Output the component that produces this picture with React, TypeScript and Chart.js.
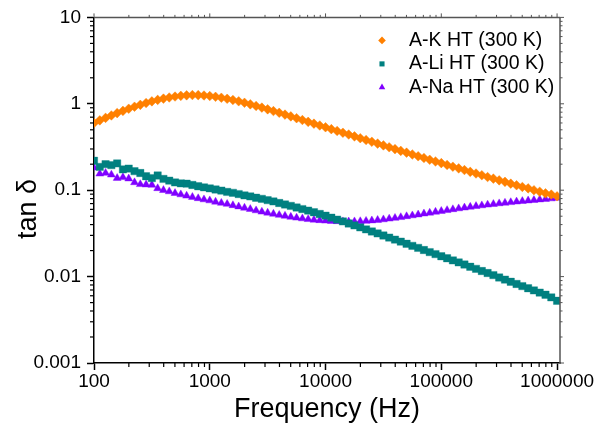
import React, { useEffect, useRef } from 'react';
import { Chart, registerables } from 'chart.js';
import { drawPoint } from 'chart.js/helpers';

Chart.register(...registerables);

const frequencies = [
  100, 112.2, 125.9, 141.3, 158.5, 177.8, 199.5, 223.9, 251.2, 281.8,
  316.2, 354.8, 398.1, 446.7, 501.2, 562.3, 631.0, 707.9, 794.3, 891.3,
  1000, 1122, 1259, 1413, 1585, 1778, 1995, 2239, 2512, 2818,
  3162, 3548, 3981, 4467, 5012, 5623, 6310, 7079, 7943, 8913,
  10000, 11220, 12590, 14130, 15850, 17780, 19950, 22390, 25120, 28180,
  31620, 35480, 39810, 44670, 50120, 56230, 63100, 70790, 79430, 89130,
  100000, 112200, 125900, 141300, 158500, 177800, 199500, 223900, 251200, 281800,
  316200, 354800, 398100, 446700, 501200, 562300, 631000, 707900, 794300, 891300,
  1000000,
];

const akValues = [
  0.600, 0.643, 0.687, 0.733, 0.780, 0.828, 0.877, 0.925, 0.973, 1.021,
  1.067, 1.109, 1.148, 1.183, 1.213, 1.236, 1.253, 1.262, 1.259, 1.247,
  1.230, 1.205, 1.175, 1.143, 1.107, 1.069, 1.028, 0.986, 0.944, 0.904,
  0.863, 0.824, 0.787, 0.750, 0.715, 0.681, 0.649, 0.618, 0.589, 0.561,
  0.535, 0.509, 0.485, 0.462, 0.441, 0.420, 0.400, 0.381, 0.363, 0.346,
  0.330, 0.314, 0.299, 0.285, 0.272, 0.259, 0.247, 0.236, 0.225, 0.215,
  0.206, 0.196, 0.187, 0.179, 0.171, 0.163, 0.156, 0.149, 0.142, 0.136,
  0.130, 0.125, 0.119, 0.114, 0.109, 0.105, 0.100, 0.096, 0.092, 0.089,
  0.085,
];

const aliValues = [
  0.219, 0.186, 0.200, 0.195, 0.204, 0.174, 0.178, 0.166, 0.158, 0.145,
  0.138, 0.148, 0.135, 0.129, 0.123, 0.120, 0.119, 0.115, 0.111, 0.108,
  0.105, 0.102, 0.099, 0.0955, 0.0933, 0.0902, 0.0871, 0.0847, 0.0818, 0.0794,
  0.0767, 0.0741, 0.0711, 0.0684, 0.0658, 0.0631, 0.0605, 0.0581, 0.0556, 0.0531,
  0.0507, 0.0481, 0.0457, 0.0435, 0.0412, 0.0391, 0.0371, 0.0352, 0.0333, 0.0316,
  0.0299, 0.0283, 0.0268, 0.0254, 0.0240, 0.0227, 0.0215, 0.0203, 0.0192, 0.0182,
  0.0172, 0.0163, 0.0154, 0.0146, 0.0138, 0.0130, 0.0123, 0.0116, 0.0110, 0.0104,
  0.00977, 0.00923, 0.00871, 0.00822, 0.00776, 0.00733, 0.00692, 0.00653, 0.00617, 0.00575,
  0.00525,
];

const anaValues = [
  0.182, 0.155, 0.158, 0.151, 0.138, 0.141, 0.136, 0.123, 0.117, 0.116,
  0.115, 0.105, 0.100, 0.0966, 0.0923, 0.0891, 0.0861, 0.0832, 0.0804, 0.0780,
  0.0759, 0.0733, 0.0711, 0.0692, 0.0668, 0.0646, 0.0624, 0.0603, 0.0582, 0.0562,
  0.0547, 0.0531, 0.0516, 0.0504, 0.0490, 0.0479, 0.0470, 0.0461, 0.0454, 0.0448,
  0.0443, 0.0439, 0.0436, 0.0434, 0.0433, 0.0434, 0.0436, 0.0440, 0.0445, 0.0451,
  0.0458, 0.0467, 0.0476, 0.0486, 0.0498, 0.0509, 0.0521, 0.0535, 0.0547, 0.0560,
  0.0573, 0.0586, 0.0600, 0.0614, 0.0627, 0.0640, 0.0653, 0.0665, 0.0678, 0.0690,
  0.0702, 0.0713, 0.0724, 0.0736, 0.0746, 0.0757, 0.0767, 0.0778, 0.0789, 0.0800,
  0.0813,
];

const seriesLabels = ['A-K HT (300 K)', 'A-Li HT (300 K)', 'A-Na HT (300 K)'];
const seriesColors = ['#FF8000', '#008080', '#8000FF'];
const seriesHalo = ['rgba(255,128,0,0.45)', 'rgba(0,128,128,0.35)', 'rgba(128,0,255,0.4)'];
const xTickLabels = ['100', '1000', '10000', '100000', '1000000'];
const yTickLabels = ['0.001', '0.01', '0.1', '1', '10'];

const FONT = "'Liberation Sans', Arial, Helvetica, sans-serif";

function isDecade(v: number) {
  const l = Math.log10(v);
  return Math.abs(l - Math.round(l)) < 1e-6;
}
function isMinor(v: number) {
  const e = Math.floor(Math.log10(v) + 1e-9);
  const s = v / Math.pow(10, e);
  const r = Math.round(s);
  return Math.abs(s - r) < 1e-6 && r >= 2 && r <= 9;
}

const framePlugin = {
  id: 'frameAndLegend',
  afterDraw(chart: any) {
    const { ctx, chartArea } = chart;
    const { left, right, top, bottom } = chartArea;
    const xs = chart.scales.x;
    const ys = chart.scales.y;
    ctx.save();
    const line = (x1: number, y1: number, x2: number, y2: number) => {
      ctx.beginPath();
      ctx.moveTo(x1, y1);
      ctx.lineTo(x2, y2);
      ctx.stroke();
    };
    // minor ticks on bottom and left
    ctx.strokeStyle = '#000';
    ctx.lineWidth = 1.2;
    for (const t of xs.ticks) {
      if (!isMinor(t.value)) continue;
      const px = xs.getPixelForValue(t.value);
      line(px, bottom, px, bottom + 4);
    }
    for (const t of ys.ticks) {
      if (!isMinor(t.value)) continue;
      const py = ys.getPixelForValue(t.value);
      line(left, py, left - 4, py);
    }
    // top & right frame
    ctx.strokeStyle = '#555';
    ctx.lineWidth = 1.5;
    line(left, top, right, top);
    line(right, top, right, bottom + 0.75);
    ctx.lineWidth = 1;
    for (const t of xs.ticks) {
      const maj = isDecade(t.value);
      if (!maj && !isMinor(t.value)) continue;
      const px = xs.getPixelForValue(t.value);
      line(px, top, px, top - (maj ? 4 : 2.5));
    }
    for (const t of ys.ticks) {
      const maj = isDecade(t.value);
      if (!maj && !isMinor(t.value)) continue;
      const py = ys.getPixelForValue(t.value);
      line(right, py, right + (maj ? 4 : 2.5), py);
    }
    // legend
    const mx = right - 178;
    const tx = right - 151;
    ctx.font = `19.5px ${FONT}`;
    ctx.textBaseline = 'middle';
    ctx.textAlign = 'left';
    chart.data.datasets.forEach((ds: any, i: number) => {
      const y = top + 23 + i * 23.5;
      ctx.fillStyle = ds.backgroundColor;
      ctx.strokeStyle = ds.backgroundColor;
      drawPoint(ctx, { pointStyle: ds.pointStyle, radius: ds.legendRadius, rotation: 0, borderWidth: 0 }, mx, y);
      ctx.fillStyle = '#000';
      ctx.fillText(ds.label, tx, y);
    });
    ctx.restore();
  },
};

export default function App() {
  const ref = useRef<HTMLCanvasElement | null>(null);
  useEffect(() => {
    document.body.style.margin = '0';
    const mk = (vals: number[]) => frequencies.map((f, i) => ({ x: f, y: vals[i] }));
    const chart = new Chart(ref.current as HTMLCanvasElement, {
      type: 'scatter',
      data: {
        datasets: [
          {
            label: seriesLabels[0], data: mk(akValues), backgroundColor: seriesColors[0], borderColor: seriesHalo[0],
            pointStyle: 'rectRot', pointRadius: 4.8, borderWidth: 1, legendRadius: 3.8,
          } as any,
          {
            label: seriesLabels[1], data: mk(aliValues), backgroundColor: seriesColors[1], borderColor: seriesHalo[1],
            pointStyle: 'rect', pointRadius: 5.2, borderWidth: 1, legendRadius: 3.6,
          } as any,
          {
            label: seriesLabels[2], data: mk(anaValues), backgroundColor: seriesColors[2], borderColor: seriesHalo[2],
            pointStyle: 'triangle', pointRadius: 4.6, borderWidth: 1, legendRadius: 3.8,
          } as any,
        ],
      },
      options: {
        responsive: false,
        animation: false,
        layout: { padding: { top: 16, right: 43, left: 0, bottom: 0 } },
        plugins: { legend: { display: false }, tooltip: { enabled: false } },
        scales: {
          x: {
            type: 'logarithmic',
            position: 'bottom',
            min: 100,
            max: 1060000,
            afterFit: (s: any) => { s.height = 71; },
            border: { display: true, color: '#000', width: 1.5 },
            grid: {
              drawOnChartArea: false,
              drawTicks: true,
              tickLength: 7,
              tickWidth: 1.5,
              tickColor: (c: any) => (c.tick && isDecade(c.tick.value) ? '#000' : 'rgba(0,0,0,0)'),
            },
            ticks: {
              autoSkip: false,
              maxRotation: 0,
              minRotation: 0,
              padding: 0,
              color: '#000',
              font: { family: FONT, size: 19 },
              callback: (v: any) => {
                const n = Number(v);
                return isDecade(n) ? xTickLabels[Math.round(Math.log10(n)) - 2] ?? '' : '';
              },
            },
            title: {
              display: true,
              text: 'Frequency (Hz)',
              color: '#000',
              font: { family: FONT, size: 27 },
              padding: { top: 0, bottom: 8 },
            },
          },
          y: {
            type: 'logarithmic',
            position: 'left',
            min: 0.001,
            max: 10,
            afterFit: (s: any) => { s.width = 94; },
            border: { display: true, color: '#000', width: 1.5 },
            grid: {
              drawOnChartArea: false,
              drawTicks: true,
              tickLength: 7,
              tickWidth: 1.5,
              tickColor: (c: any) => (c.tick && isDecade(c.tick.value) ? '#000' : 'rgba(0,0,0,0)'),
            },
            ticks: {
              autoSkip: false,
              padding: 6,
              color: '#000',
              font: { family: FONT, size: 19 },
              callback: (v: any) => {
                const n = Number(v);
                return isDecade(n) ? yTickLabels[Math.round(Math.log10(n)) + 3] ?? '' : '';
              },
            },
            title: {
              display: true,
              text: 'tan δ     ',
              color: '#000',
              font: { family: FONT, size: 27 },
              padding: { top: 12, bottom: 0 },
            },
          },
        },
      },
      plugins: [framePlugin],
    } as any);
    return () => chart.destroy();
  }, []);
  return (
    <div style={{ position: 'absolute', left: 0, top: 0, width: 603, height: 434 }}>
      <canvas ref={ref} width={603} height={434} style={{ display: 'block' }} />
    </div>
  );
}
